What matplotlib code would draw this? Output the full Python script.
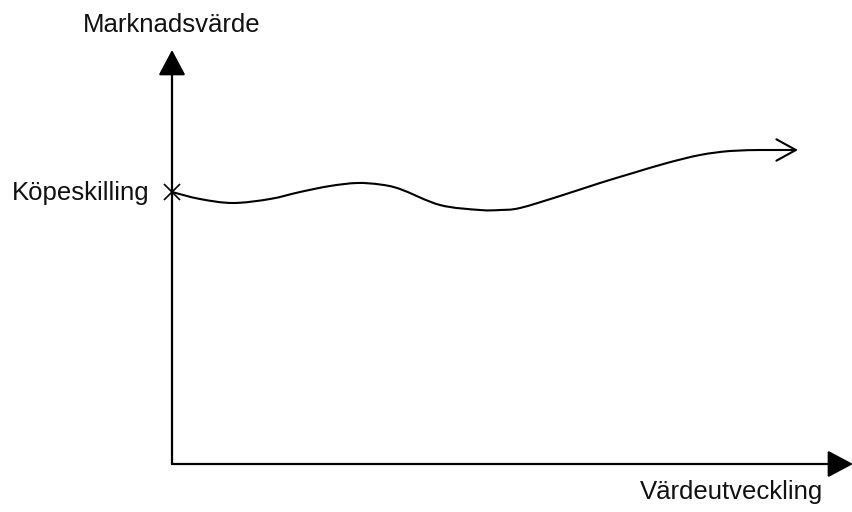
import matplotlib.pyplot as plt
from matplotlib.path import Path
from matplotlib.patches import PathPatch

plt.rcParams['font.family'] = ['Liberation Sans', 'DejaVu Sans']

# schematic curve (x = value development, y = market value)
curve_x = [0, 28, 61, 98, 128, 158, 185, 208, 228, 268, 308, 328, 348, 388,
           428, 461, 495, 528, 558, 588, 626]
curve_y = [272, 265, 261, 265, 272, 278, 281, 279.5, 275, 259, 254, 254, 256,
           268, 281, 291, 301, 309, 313, 314, 314]

start_label = 'Köpeskilling'
y_label = 'Marknadsvärde'
x_label = 'Värdeutveckling'

fig = plt.figure(figsize=(8.52, 5.12), dpi=100)
ax = fig.add_axes([0, 0, 1, 1])
ax.set_xlim(-172, 680)
ax.set_ylim(-48, 464)
ax.axis('off')

# axes with filled arrowheads
axis_arrow = dict(arrowstyle='-|>,head_length=0.75,head_width=0.4',
                  mutation_scale=21, color='black', lw=1.6,
                  shrinkA=0, shrinkB=0)
ax.annotate('', xy=(0, 414), xytext=(0, 0), arrowprops=axis_arrow,
            annotation_clip=False)
ax.annotate('', xy=(681, 0), xytext=(0, 0), arrowprops=axis_arrow,
            annotation_clip=False)

# smooth curve through the read points (cubic bezier segments)
pts = list(zip(curve_x[:-1], curve_y[:-1]))
verts = [pts[0]]
codes = [Path.MOVETO]
for i in range(len(pts) - 1):
    p0 = pts[max(i - 1, 0)]
    p1 = pts[i]
    p2 = pts[i + 1]
    p3 = pts[min(i + 2, len(pts) - 1)]
    c1 = (p1[0] + (p2[0] - p0[0]) / 6, p1[1] + (p2[1] - p0[1]) / 6)
    c2 = (p2[0] - (p3[0] - p1[0]) / 6, p2[1] - (p3[1] - p1[1]) / 6)
    verts += [c1, c2, p2]
    codes += [Path.CURVE4] * 3
ax.add_patch(PathPatch(Path(verts, codes), facecolor='none',
                       edgecolor='black', lw=1.5))

# open arrowhead at the end
ax.annotate('', xy=(curve_x[-1], curve_y[-1]),
            xytext=(curve_x[-2], curve_y[-2]),
            arrowprops=dict(arrowstyle='->,head_length=1.0,head_width=0.55',
                            mutation_scale=14, color='black', lw=1.5,
                            shrinkA=0, shrinkB=0))

# purchase price marker
ax.plot(curve_x[0], curve_y[0], marker='x', color='black', ms=11, mew=1.2)

ax.text(-22, curve_y[0] - 1, start_label, fontsize=18.5, ha='right',
        va='center', color='#111111')
ax.text(0, 439, y_label, fontsize=18.5, ha='center', va='center',
        color='#111111')
ax.text(560, -28, x_label, fontsize=18.5, ha='center', va='center',
        color='#111111')

fig.savefig('out.png', dpi=100)
